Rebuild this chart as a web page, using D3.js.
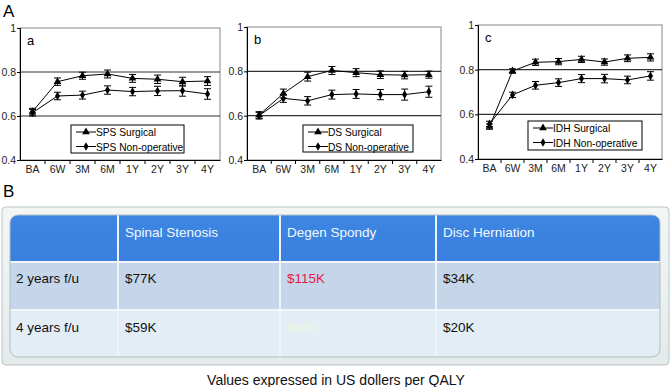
<!DOCTYPE html>
<html>
<head>
<meta charset="utf-8">
<script src="https://cdn.jsdelivr.net/npm/d3@7"></script>
<style>
  body { margin: 0; background: #fff; }
  svg { font-family: "Liberation Sans", Arial, sans-serif; }
</style>
</head>
<body>
<svg id="fig" width="672" height="387"></svg>
<script>
var width = 672, height = 387;

// time points
var timepoints = ["BA", "6W", "3M", "6M", "1Y", "2Y", "3Y", "4Y"];
var yTicks = [0.4, 0.6, 0.8, 1];

// panel a - spinal stenosis
var spsSurg = [0.62, 0.756, 0.783, 0.791, 0.771, 0.767, 0.756, 0.759];
var spsSurgErr = [0.015, 0.017, 0.016, 0.018, 0.018, 0.019, 0.02, 0.02];
var spsNon = [0.615, 0.691, 0.695, 0.718, 0.711, 0.714, 0.715, 0.70];
var spsNonErr = [0.015, 0.017, 0.018, 0.019, 0.019, 0.021, 0.025, 0.024];

// panel b - degenerative spondylolisthesis
var dsSurg = [0.603, 0.70, 0.776, 0.804, 0.794, 0.785, 0.783, 0.785];
var dsSurgErr = [0.015, 0.02, 0.02, 0.018, 0.018, 0.017, 0.017, 0.016];
var dsNon = [0.60, 0.678, 0.667, 0.695, 0.698, 0.695, 0.695, 0.708];
var dsNonErr = [0.015, 0.018, 0.019, 0.02, 0.02, 0.023, 0.025, 0.025];

// panel c - intervertebral disc herniation
var idhSurg = [0.545, 0.794, 0.833, 0.836, 0.846, 0.834, 0.851, 0.855];
var idhSurgErr = [0.012, 0.01, 0.014, 0.014, 0.014, 0.014, 0.015, 0.016];
var idhNon = [0.557, 0.687, 0.73, 0.742, 0.76, 0.76, 0.754, 0.772];
var idhNonErr = [0.012, 0.012, 0.017, 0.017, 0.018, 0.019, 0.017, 0.019];

// table B
var tableCols = ["", "Spinal Stenosis", "Degen Spondy", "Disc Herniation"];
var tableRows = ["2 years f/u", "4 years f/u"];
var tableVals = [["$77K", "$115K", "$34K"], ["$59K", "$64K", "$20K"]];
var caption = "Values expressed in US dollers per QALY";

var svg = d3.select("#fig");

svg.append("text").attr("x", 3).attr("y", 17)
    .style("font-size", "17px").text("A");
svg.append("text").attr("x", 3).attr("y", 197)
    .style("font-size", "17px").text("B");

var panels = [
  { id: "a", name: "SPS", surg: spsSurg, surgErr: spsSurgErr, non: spsNon, nonErr: spsNonErr,
    x0: 20, x1: 220, y0: 28, y1: 160, leg: [71, 125, 113, 28] },
  { id: "b", name: "DS", surg: dsSurg, surgErr: dsSurgErr, non: dsNon, nonErr: dsNonErr,
    x0: 247, x1: 441, y0: 27, y1: 160, leg: [303, 125, 110, 27] },
  { id: "c", name: "IDH", surg: idhSurg, surgErr: idhSurgErr, non: idhNon, nonErr: idhNonErr,
    x0: 478, x1: 662, y0: 25, y1: 159, leg: [528, 121, 114, 29] }
];

var tri = d3.symbol().type(d3.symbolTriangle).size(26);
var dia = d3.symbol().type(d3.symbolDiamond).size(22);

panels.forEach(function (p) {
  var g = svg.append("g");
  var x = d3.scaleBand().domain(timepoints).range([p.x0, p.x1]);
  var y = d3.scaleLinear().domain([0.4, 1]).range([p.y1, p.y0]);

  // frame
  g.append("rect").attr("x", p.x0).attr("y", p.y0)
      .attr("width", p.x1 - p.x0).attr("height", p.y1 - p.y0)
      .attr("fill", "none").attr("stroke", "#888").attr("stroke-width", 1);

  // grid lines
  g.selectAll(".grid").data([0.6, 0.8]).enter().append("line")
      .attr("x1", p.x0).attr("x2", p.x1)
      .attr("y1", function (d) { return y(d); }).attr("y2", function (d) { return y(d); })
      .attr("stroke", "#333").attr("stroke-width", 1.2);

  var yAxis = d3.axisLeft(y).tickValues(yTicks).tickSize(3)
      .tickFormat(function (d) { return d === 1 ? "1" : d3.format(".1f")(d); });
  var ya = g.append("g").attr("transform", "translate(" + p.x0 + ",0)").call(yAxis);
  ya.select(".domain").attr("stroke", "#000");
  ya.selectAll("text").style("font-size", "10.5px").attr("fill", "#222").attr("x", -4);

  var xAxis = d3.axisBottom(x).tickSize(0).tickPadding(6);
  var xa = g.append("g").attr("transform", "translate(0," + p.y1 + ")").call(xAxis);
  xa.select(".domain").attr("stroke", "#000");
  xa.selectAll("text").style("font-size", "10.5px").attr("fill", "#222");
  // tick marks at band boundaries
  g.selectAll(".xt").data(timepoints.slice(1)).enter().append("line")
      .attr("x1", function (d) { return x(d); }).attr("x2", function (d) { return x(d); })
      .attr("y1", p.y1).attr("y2", p.y1 + 4).attr("stroke", "#000");

  g.append("text").attr("x", p.x0 + 7).attr("y", p.y0 + 17)
      .style("font-size", "13px").text(p.id);

  var cx = function (d, i) { return x(timepoints[i]) + x.bandwidth() / 2; };

  [[p.surg, p.surgErr, tri], [p.non, p.nonErr, dia]].forEach(function (s) {
    var vals = s[0], errs = s[1];
    var line = d3.line().x(function (d, i) { return cx(d, i); }).y(function (d) { return y(d); });
    g.append("path").datum(vals).attr("d", line)
        .attr("fill", "none").attr("stroke", "#000").attr("stroke-width", 1);
    var eb = g.selectAll(null).data(vals).enter().append("g");
    eb.append("line")
        .attr("x1", cx).attr("x2", cx)
        .attr("y1", function (d, i) { return y(d - errs[i]); })
        .attr("y2", function (d, i) { return y(d + errs[i]); })
        .attr("stroke", "#000");
    [-1, 1].forEach(function (sg) {
      eb.append("line")
          .attr("x1", function (d, i) { return cx(d, i) - 3.5; })
          .attr("x2", function (d, i) { return cx(d, i) + 3.5; })
          .attr("y1", function (d, i) { return y(d + sg * errs[i]); })
          .attr("y2", function (d, i) { return y(d + sg * errs[i]); })
          .attr("stroke", "#000");
    });
    g.selectAll(null).data(vals).enter().append("path")
        .attr("d", s[2])
        .attr("transform", function (d, i) { return "translate(" + cx(d, i) + "," + y(d) + ")"; })
        .attr("fill", "#000");
  });

  // legend
  var L = p.leg;
  var lg = g.append("g").attr("transform", "translate(" + L[0] + "," + L[1] + ")");
  lg.append("rect").attr("width", L[2]).attr("height", L[3])
      .attr("fill", "#fff").attr("stroke", "#000");
  [[" Surgical", tri], [" Non-operative", dia]].forEach(function (e, k) {
    var yy = 7 + k * 14.5;
    lg.append("line").attr("x1", 5).attr("x2", 25).attr("y1", yy).attr("y2", yy).attr("stroke", "#000");
    lg.append("path").attr("d", e[1]).attr("transform", "translate(15," + yy + ")");
    lg.append("text").attr("x", 25).attr("y", yy + 4)
        .style("font-size", "10.2px").text(p.name + e[0]);
  });
});

// ---- table B ----
var defs = svg.append("defs");
var fg = defs.append("linearGradient").attr("id", "frameG").attr("x1", 0).attr("y1", 0).attr("x2", 0).attr("y2", 1);
fg.append("stop").attr("offset", "0").attr("stop-color", "#f4f6f6");
fg.append("stop").attr("offset", "1").attr("stop-color", "#e4eaea");
var hg = defs.append("linearGradient").attr("id", "headG").attr("x1", 0).attr("y1", 0).attr("x2", 0).attr("y2", 1);
hg.append("stop").attr("offset", "0").attr("stop-color", "#3d86e2");
hg.append("stop").attr("offset", "1").attr("stop-color", "#3a7fde");

svg.append("rect").attr("x", 2).attr("y", 207).attr("width", 667).attr("height", 158)
    .attr("rx", 4).attr("fill", "url(#frameG)").attr("stroke", "#b9c6c8");

var colX = [10, 118, 280, 436, 660];
var rowY = [215, 262, 310, 357];
var rowFill = ["url(#headG)", "#c6d6ea", "#e3edf6"];

var tg = svg.append("g");
var clip = defs.append("clipPath").attr("id", "tclip");
clip.append("rect").attr("x", colX[0]).attr("y", rowY[0])
    .attr("width", colX[4] - colX[0]).attr("height", rowY[3] - rowY[0]).attr("rx", 8);
var inner = tg.append("g").attr("clip-path", "url(#tclip)");
rowFill.forEach(function (f, r) {
  inner.append("rect").attr("x", colX[0]).attr("y", rowY[r])
      .attr("width", colX[4] - colX[0]).attr("height", rowY[r + 1] - rowY[r]).attr("fill", f);
});
inner.selectAll(".vl").data(colX.slice(1, 4)).enter().append("line")
    .attr("x1", function (d) { return d; }).attr("x2", function (d) { return d; })
    .attr("y1", rowY[0]).attr("y2", rowY[3]).attr("stroke", "#eef3f8").attr("stroke-width", 2);
inner.selectAll(".hl").data(rowY.slice(1, 3)).enter().append("line")
    .attr("x1", colX[0]).attr("x2", colX[4])
    .attr("y1", function (d) { return d; }).attr("y2", function (d) { return d; })
    .attr("stroke", "#f2f6fa").attr("stroke-width", 2);
tg.append("rect").attr("x", colX[0]).attr("y", rowY[0])
    .attr("width", colX[4] - colX[0]).attr("height", rowY[3] - rowY[0]).attr("rx", 8)
    .attr("fill", "none").attr("stroke", "#aebfc4");

tableCols.forEach(function (c, j) {
  tg.append("text").attr("x", colX[j] + 7).attr("y", 237)
      .attr("fill", "#f4f8ff").style("font-size", "13.5px").text(c);
});
tableRows.forEach(function (r, i) {
  var yy = (i === 0 ? 283 : 332);
  tg.append("text").attr("x", 16).attr("y", yy).style("font-size", "13.5px").attr("fill", "#111").text(r);
  tableVals[i].forEach(function (v, j) {
    var col = "#111";
    if (i === 0 && j === 1) col = "#e8194a";
    if (i === 1 && j === 1) col = "#eef4dc";
    tg.append("text").attr("x", colX[j + 1] + 7).attr("y", yy)
        .style("font-size", "13.5px").attr("fill", col).text(v);
  });
});

svg.append("text").attr("x", width / 2).attr("y", 385).attr("text-anchor", "middle")
    .style("font-size", "14px").attr("fill", "#111").text(caption);
</script>
</body>
</html>
